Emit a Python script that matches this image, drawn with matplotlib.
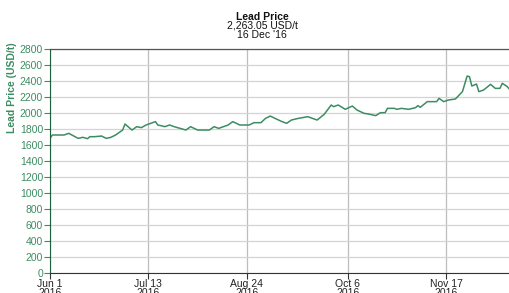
import pandas as pd
import matplotlib.pyplot as plt

# Lead price, Jun 1 - Dec 16 2016
dates = ["2016-06-01", "2016-06-02", "2016-06-07", "2016-06-09", "2016-06-13", "2016-06-15",
         "2016-06-17", "2016-06-18", "2016-06-20", "2016-06-23", "2016-06-25", "2016-06-27",
         "2016-06-29", "2016-07-02", "2016-07-03", "2016-07-06", "2016-07-08", "2016-07-10",
         "2016-07-12", "2016-07-14", "2016-07-16", "2016-07-17", "2016-07-19", "2016-07-20",
         "2016-07-22", "2016-07-24", "2016-07-29", "2016-07-31", "2016-08-03", "2016-08-08",
         "2016-08-10", "2016-08-12", "2016-08-16", "2016-08-18", "2016-08-21", "2016-08-25",
         "2016-08-27", "2016-08-30", "2016-09-01", "2016-09-03", "2016-09-05", "2016-09-08",
         "2016-09-10", "2016-09-12", "2016-09-15", "2016-09-19", "2016-09-23", "2016-09-26",
         "2016-09-29", "2016-09-30", "2016-10-02", "2016-10-05", "2016-10-08", "2016-10-10",
         "2016-10-13", "2016-10-15", "2016-10-18", "2016-10-20", "2016-10-22", "2016-10-23",
         "2016-10-26", "2016-10-27", "2016-10-29", "2016-11-01", "2016-11-04", "2016-11-05",
         "2016-11-06", "2016-11-09", "2016-11-13", "2016-11-14", "2016-11-16", "2016-11-18",
         "2016-11-21", "2016-11-24", "2016-11-26", "2016-11-27", "2016-11-28", "2016-11-30",
         "2016-12-01", "2016-12-03", "2016-12-06", "2016-12-08", "2016-12-10", "2016-12-11",
         "2016-12-13", "2016-12-14", "2016-12-16"]
prices = [1683, 1725, 1725, 1746, 1683, 1696,
          1679, 1704, 1704, 1712, 1683, 1696,
          1725, 1787, 1862, 1787, 1829, 1817,
          1850, 1871, 1892, 1850, 1837, 1829,
          1850, 1829, 1787, 1829, 1787, 1787,
          1829, 1808, 1850, 1892, 1850, 1850,
          1879, 1879, 1933, 1962, 1933, 1892,
          1871, 1912, 1933, 1954, 1912, 1983,
          2100, 2079, 2100, 2046, 2087, 2037,
          1996, 1987, 1967, 2004, 2004, 2058,
          2058, 2046, 2058, 2046, 2067, 2092,
          2071, 2142, 2142, 2183, 2142, 2162,
          2175, 2267, 2462, 2454, 2337, 2362,
          2267, 2287, 2358, 2308, 2308, 2371,
          2333, 2300, 2263]

tick_dates = ["2016-06-01", "2016-07-13", "2016-08-24", "2016-10-06", "2016-11-17"]
tick_labels = ["Jun 1\n2016", "Jul 13\n2016", "Aug 24\n2016", "Oct 6\n2016", "Nov 17\n2016"]
y_ticks = list(range(0, 2801, 200))

df = pd.DataFrame({"date": pd.to_datetime(dates), "price": prices})

plt.rcParams["font.family"] = ["Liberation Sans", "DejaVu Sans"]
green = "#3d8c63"

fig = plt.figure(figsize=(5.10, 2.93), dpi=100)
ax = fig.add_axes([50 / 510, 20 / 293, 464 / 510, 224 / 293])

ax.plot(df["date"], df["price"], color=green, linewidth=1.1)

ax.set_xlim(pd.to_datetime("2016-06-01"), pd.to_datetime("2016-12-16"))
ax.set_ylim(0, 2800)
ax.set_yticks(y_ticks)
ax.set_xticks(pd.to_datetime(tick_dates))
ax.set_xticklabels(tick_labels)

ax.grid(axis="y", color="#d4d4d4", linewidth=0.9)
ax.grid(axis="x", color="#bdbdbd", linewidth=0.9)
ax.set_axisbelow(True)

ax.spines["right"].set_visible(False)
ax.spines["top"].set_color("#555555")
ax.spines["top"].set_linewidth(0.9)
ax.spines["left"].set_color("#1f5e3e")
ax.spines["bottom"].set_color("#333333")

ax.tick_params(axis="y", colors=green, labelcolor=green, labelsize=7.5, length=4, width=0.8, pad=1)
ax.tick_params(axis="x", colors="#333333", labelcolor="#222222", labelsize=7.5, length=4, width=0.8, pad=0)
for lbl in ax.get_xticklabels():
    lbl.set_linespacing(0.95)

# y label sits high on the left, not centred on the axis (narrow bold face)
fig.text(12 / 510, 1 - 88 / 293, "Lead Price (USD/t)", rotation=90, color=green, fontsize=7.5,
         fontweight="bold", ha="center", va="center",
         family=["Liberation Sans Narrow", "Liberation Sans", "DejaVu Sans"])
fig.text(262 / 510, 1 - 17 / 293, "Lead Price", fontsize=7.5, fontweight="bold",
         ha="center", va="center", color="#111111")
fig.text(262 / 510, 1 - 26 / 293, "2,263.05 USD/t", fontsize=7.5,
         ha="center", va="center", color="#111111")
fig.text(262 / 510, 1 - 35 / 293, "16 Dec '16", fontsize=7.5,
         ha="center", va="center", color="#111111")

fig.savefig("out.png", dpi=100)
